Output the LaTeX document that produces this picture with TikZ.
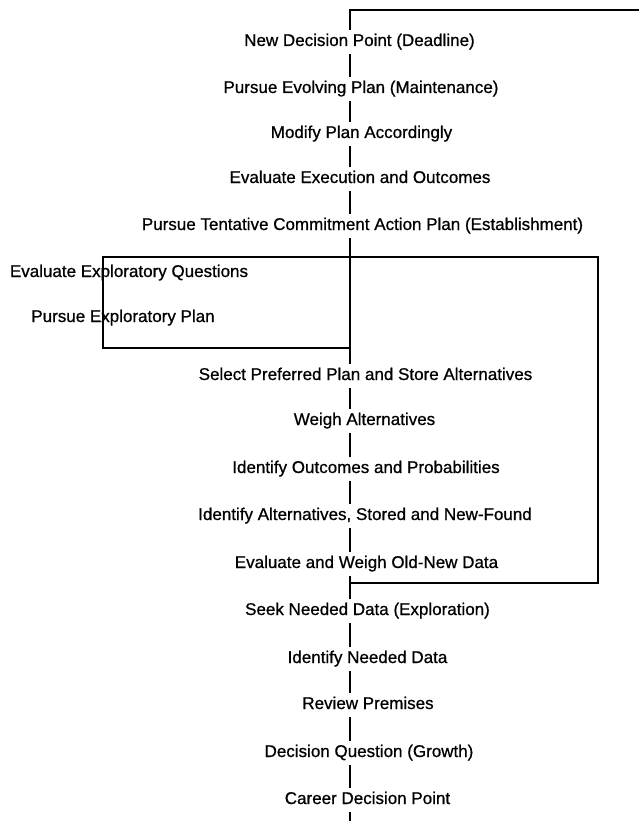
\documentclass[tikz,border=0pt]{standalone}
\usepackage{fontspec}
\setmainfont{Liberation Sans}[FakeBold=0.8]
\begin{document}
\begin{tikzpicture}[x=1pt,y=-1pt,
  lbl/.style={font=\fontsize{17}{20}\selectfont, inner sep=0pt, outer sep=0pt,
    text height=12pt, text depth=4pt, minimum height=24pt, anchor=center},
  ln/.style={line width=1.3pt, line cap=butt}]
\useasboundingbox (0,0) rectangle (639,821);
\coordinate (sp) at (350,0);
% main chain texts
\node[lbl] (n1)  at (359.5,42)  {New Decision Point (Deadline)};
\node[lbl] (n2)  at (361,89)    {Pursue Evolving Plan (Maintenance)};
\node[lbl] (n3)  at (361.5,134) {Modify Plan Accordingly};
\node[lbl] (n4)  at (360,179)   {Evaluate Execution and Outcomes};
\node[lbl] (n5)  at (362.5,226) {Pursue Tentative Commitment Action Plan (Establishment)};
\node[lbl] (e1)  at (129,273)   {Evaluate Exploratory Questions};
\node[lbl] (e2)  at (123,318)   {Pursue Exploratory Plan};
\node[lbl] (n6)  at (365.5,376) {Select Preferred Plan and Store Alternatives};
\node[lbl] (n7)  at (364.5,421) {Weigh Alternatives};
\node[lbl] (n8)  at (366,469)   {Identify Outcomes and Probabilities};
\node[lbl] (n9)  at (365,516)   {Identify Alternatives, Stored and New-Found};
\node[lbl] (n10) at (366.5,564) {Evaluate and Weigh Old-New Data};
\node[lbl] (n11) at (367.5,611) {Seek Needed Data (Exploration)};
\node[lbl] (n12) at (367.5,659) {Identify Needed Data};
\node[lbl] (n13) at (368,705)   {Review Premises};
\node[lbl] (n14) at (369,753)   {Decision Question (Growth)};
\node[lbl] (n15) at (367.5,800) {Career Decision Point};
% junction and corner coordinates
\coordinate (top)  at (350,10);
\coordinate (topr) at (639,10);
\coordinate (jt)   at (350,257);
\coordinate (lt)   at (103,257);
\coordinate (lb)   at (103,348);
\coordinate (jl)   at (350,348);
\coordinate (rt)   at (598,257);
\coordinate (rb)   at (598,583);
\coordinate (jr)   at (350,583);
\coordinate (bot)  at (350,821);
% spine
\draw[ln] (topr) -- (top) -- (n1.north -| sp);
\foreach \a/\b in {n1/n2,n2/n3,n3/n4,n4/n5,n6/n7,n7/n8,n8/n9,n9/n10,n11/n12,n12/n13,n13/n14,n14/n15}
  \draw[ln] (\a.south -| sp) -- (\b.north -| sp);
\draw[ln] (n5.south -| sp) -- (jt) -- (jl) -- (n6.north -| sp);
\draw[ln] (n10.south -| sp) -- (jr) -- (n11.north -| sp);
\draw[ln] (n15.south -| sp) -- (bot);
% loops
\draw[ln] (jt) -- (lt) -- (lb) -- (jl);
\draw[ln] (jt) -- (rt) -- (rb) -- (jr);
\end{tikzpicture}
\end{document}
